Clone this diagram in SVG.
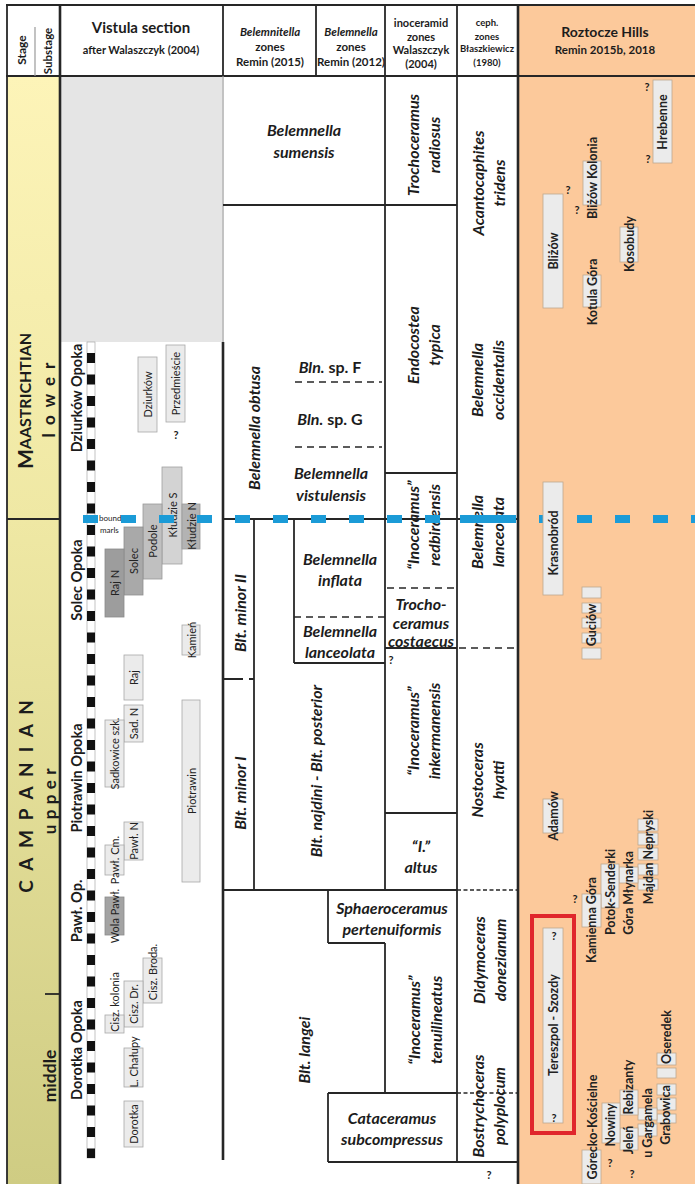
<svg xmlns="http://www.w3.org/2000/svg" width="695" height="1184" viewBox="0 0 695 1184">
<defs>
<linearGradient id="yel" x1="0" y1="0" x2="0" y2="1">
<stop offset="0" stop-color="#fdf4b8"/>
<stop offset="0.4" stop-color="#efe8a4"/>
<stop offset="1" stop-color="#cfcc83"/>
</linearGradient>
<style>
text{font-family:Lato,"Liberation Sans",sans-serif;fill:#1c1c1c}
.h{font-weight:700;text-anchor:middle}
.z{font-weight:700;font-style:italic;font-size:16px;text-anchor:middle;dominant-baseline:central}
.st{font-weight:700;text-anchor:middle;dominant-baseline:central}
.fm{font-weight:700;font-size:14.5px;text-anchor:middle;dominant-baseline:central}
.lv{font-size:11px;text-anchor:middle;dominant-baseline:central;fill:#222}
.lr{font-weight:700;font-size:12.5px;text-anchor:middle;dominant-baseline:central;fill:#222}
.q{font-weight:700;font-size:11px;text-anchor:middle;dominant-baseline:central}
.bx{fill:#ebebeb;stroke:#a8a8a8;stroke-width:0.8}
.rb{fill:#ebebeb;stroke:#bda88f;stroke-width:0.8}
.ln{stroke:#262626;stroke-width:1.8;fill:none}
.tk{stroke:#262626;stroke-width:2.6;fill:none}
.gl{stroke:#9a9a9a;stroke-width:1.2;fill:none}
.ds{stroke:#262626;stroke-width:1.6;stroke-dasharray:7 5;fill:none}
.dt{stroke:#262626;stroke-width:1.5;stroke-dasharray:4 2.5;fill:none}
</style>
</defs>
<rect x="0" y="0" width="695" height="1184" fill="#ffffff"/>
<!-- backgrounds -->
<rect x="7" y="76" width="53" height="1108" fill="url(#yel)"/>
<rect x="61" y="76" width="161" height="266" fill="#e5e5e5"/>
<rect x="518" y="5" width="177" height="1179" fill="#fcc99b"/>

<!-- header -->
<g id="header">
<text class="st" font-size="12" transform="translate(21,50) rotate(-90)">Stage</text>
<text class="st" font-size="11.5" transform="translate(47,51) rotate(-90)">Substage</text>
<text class="h" x="141" y="33" font-size="15">Vistula section</text>
<text class="h" x="141" y="54" font-size="11">after Walaszczyk (2004)</text>
<text class="h" x="270" y="36" font-size="11.5" font-style="italic">Belemnitella</text>
<text class="h" x="270" y="51" font-size="11.5">zones</text>
<text class="h" x="270" y="66" font-size="11.5">Remin (2015)</text>
<text class="h" x="351" y="36" font-size="11.5" font-style="italic">Belemnella</text>
<text class="h" x="351" y="51" font-size="11.5">zones</text>
<text class="h" x="351" y="66" font-size="11.5">Remin (2012)</text>
<text class="h" x="421" y="27" font-size="11">inoceramid</text>
<text class="h" x="421" y="41" font-size="11">zones</text>
<text class="h" x="421" y="54" font-size="11">Walaszczyk</text>
<text class="h" x="421" y="68" font-size="11">(2004)</text>
<text class="h" x="487" y="26" font-size="9.5">ceph.</text>
<text class="h" x="487" y="40" font-size="9.5">zones</text>
<text class="h" x="487" y="52" font-size="9.5">Błaszkiewicz</text>
<text class="h" x="487" y="66" font-size="9.5">(1980)</text>
<text class="h" x="605" y="37" font-size="14">Roztocze Hills</text>
<text class="h" x="605" y="54" font-size="11.5">Remin 2015b, 2018</text>
</g>

<!-- table lines -->
<g id="connectors">
<line class="ln" x1="6" y1="5" x2="695" y2="5"/>
<line class="ln" x1="7" y1="5" x2="7" y2="1184"/>
<line class="ln" x1="6" y1="76" x2="695" y2="76"/>
<line class="gl" x1="35" y1="27" x2="35" y2="76"/>
<line class="tk" x1="60" y1="5" x2="60" y2="1184"/>
<line class="ln" x1="7" y1="519" x2="60" y2="519"/>
<line class="ln" x1="45" y1="994" x2="60" y2="994"/>
<line class="ln" x1="223" y1="5" x2="223" y2="76"/>
<line class="gl" x1="223" y1="76" x2="223" y2="342"/>
<line class="tk" x1="223" y1="342" x2="223" y2="1160"/>
<line class="ln" x1="316" y1="5" x2="316" y2="76"/>
<line class="ln" x1="385" y1="5" x2="385" y2="890"/>
<line class="ln" x1="385" y1="943" x2="385" y2="1093"/>
<line class="ln" x1="457" y1="5" x2="457" y2="1162"/>
<line class="tk" x1="518" y1="5" x2="518" y2="1184"/>
<line class="ln" x1="223" y1="205" x2="457" y2="205"/>
<line class="ds" x1="295" y1="382" x2="382" y2="382"/>
<line class="ds" x1="295" y1="447" x2="382" y2="447"/>
<line class="ln" x1="385" y1="473" x2="457" y2="473"/>
<line class="ln" x1="223" y1="519" x2="518" y2="519"/>
<line class="ln" x1="254" y1="519" x2="254" y2="890"/>
<line class="ln" x1="223" y1="679" x2="254" y2="679" stroke-dasharray="20 6"/>
<line class="ln" x1="294" y1="519" x2="294" y2="663"/>
<line class="ds" x1="294" y1="617" x2="385" y2="617"/>
<line class="ln" x1="294" y1="663" x2="385" y2="663"/>
<line class="ds" x1="387" y1="588" x2="455" y2="588"/>
<line class="ln" x1="385" y1="648" x2="457" y2="648"/>
<line class="ds" x1="459" y1="648" x2="518" y2="648"/>
<line class="ln" x1="385" y1="813" x2="457" y2="813"/>
<line class="ln" x1="223" y1="890" x2="457" y2="890"/>
<line class="dt" x1="457" y1="890" x2="518" y2="890"/>
<line class="ln" x1="328" y1="890" x2="328" y2="943"/>
<line class="ln" x1="328" y1="943" x2="385" y2="943"/>
<line class="ln" x1="328" y1="1093" x2="457" y2="1093"/>
<line class="dt" x1="457" y1="1093" x2="518" y2="1093"/>
<line class="ln" x1="328" y1="1093" x2="328" y2="1162"/>
<line class="ln" x1="328" y1="1162" x2="518" y2="1162"/>
</g>

<!-- stage column -->
<g id="stages">
<text class="st" transform="translate(24,401) rotate(-90)"><tspan font-size="21">M</tspan><tspan font-size="16">AASTRICHTIAN</tspan></text>
<text class="st" font-size="17" letter-spacing="2" transform="translate(48,399) rotate(-90)">l o w e r</text>
<text class="st" font-size="19" letter-spacing="2.7" transform="translate(25,795) rotate(-90)">C A M P A N I A N</text>
<text class="st" font-size="17" letter-spacing="0.6" transform="translate(49,801) rotate(-90)">u p p e r</text>
<text class="st" font-size="17.5" transform="translate(49,1076) rotate(-90)">middle</text>
</g>

<!-- Vistula section -->
<g id="vistula">
<rect x="87" y="342" width="8" height="816" fill="#ffffff" stroke="#9a9a9a" stroke-width="0.6"/>
<line x1="91" y1="353" x2="91" y2="1158" stroke="#111" stroke-width="8" stroke-dasharray="10 11.5"/>
<text class="fm" transform="translate(76,398) rotate(-90)">Dziurków Opoka</text>
<text class="fm" transform="translate(76,580) rotate(-90)">Solec Opoka</text>
<text class="fm" transform="translate(76,778) rotate(-90)">Piotrawin Opoka</text>
<text class="fm" transform="translate(76,911) rotate(-90)">Pawł. Op.</text>
<text class="fm" transform="translate(76,1050) rotate(-90)">Dorotka Opoka</text>

<g id="v-dziurkow"><rect class="bx" x="138" y="357" width="19" height="75"/><text class="lv" transform="translate(147.5,394.5) rotate(-90)">Dziurków</text></g>
<g id="v-przedmiescie"><rect class="bx" x="166" y="345" width="19" height="77"/><text class="lv" transform="translate(175.5,383.5) rotate(-90)">Przedmieście</text><text class="q" x="176" y="434">?</text></g>
<g id="v-kludzieS"><rect x="162" y="467" width="20" height="97" fill="#d3d3d3" stroke="#a0a0a0" stroke-width="0.8"/><text class="lv" transform="translate(172,515) rotate(-90)">Kłudzie S</text></g>
<g id="v-podole"><rect x="143" y="504" width="19" height="75" fill="#c0c0c0" stroke="#999" stroke-width="0.8"/><text class="lv" transform="translate(152.5,541) rotate(-90)">Podole</text></g>
<g id="v-kludzieN"><rect x="182" y="504" width="18" height="45" fill="#b3b3b3" stroke="#999" stroke-width="0.8"/><text class="lv" transform="translate(191,526) rotate(-90)">Kłudzie N</text></g>
<g id="v-solec"><rect x="124" y="527" width="19" height="68" fill="#a9a9a9" stroke="#8f8f8f" stroke-width="0.8"/><text class="lv" transform="translate(133.5,561) rotate(-90)">Solec</text></g>
<g id="v-rajN"><rect x="105" y="549" width="19" height="68" fill="#9d9d9d" stroke="#8a8a8a" stroke-width="0.8"/><text class="lv" transform="translate(114.5,583) rotate(-90)">Raj N</text></g>
<g id="v-boundary"><text x="99" y="521" font-size="8" fill="#333">boundary</text><text x="100" y="533" font-size="8" fill="#333">marls</text></g>
<g id="v-kamien"><rect class="bx" x="182" y="625" width="18" height="30"/><text class="lv" transform="translate(191,640) rotate(-90)">Kamień</text></g>
<g id="v-raj"><rect class="bx" x="124" y="655" width="19" height="45"/><text class="lv" transform="translate(133.5,677.5) rotate(-90)">Raj</text></g>
<g id="v-sadN"><rect class="bx" x="124" y="705" width="19" height="37"/><text class="lv" transform="translate(133.5,723.5) rotate(-90)">Sad. N</text></g>
<g id="v-sadkowice"><rect class="bx" x="105" y="720" width="19" height="67"/><text class="lv" transform="translate(114.5,753.5) rotate(-90)">Sadkowice szk.</text></g>
<g id="v-piotrawin"><rect class="bx" x="182" y="700" width="18" height="182"/><text class="lv" transform="translate(191,791) rotate(-90)">Piotrawin</text></g>
<g id="v-pawlN"><rect class="bx" x="124" y="822" width="19" height="38"/><text class="lv" transform="translate(133.5,841) rotate(-90)">Pawł. N</text></g>
<g id="v-pawlCm"><rect class="bx" x="105" y="845" width="19" height="30"/><text class="lv" transform="translate(114.5,860) rotate(-90)">Pawł. Cm.</text></g>
<g id="v-wola"><rect x="105" y="897" width="19" height="38" fill="#a3a3a3" stroke="#8a8a8a" stroke-width="0.8"/><text class="lv" transform="translate(114.5,916) rotate(-90)">Wola Pawł.</text></g>
<g id="v-broda"><rect class="bx" x="143" y="958" width="19" height="45"/><text class="lv" transform="translate(152.5,972) rotate(-90)">Cisz. Broda.</text></g>
<g id="v-ciszdr"><rect class="bx" x="124" y="981" width="19" height="46"/><text class="lv" transform="translate(133.5,1004) rotate(-90)">Cisz. Dr.</text></g>
<g id="v-kolonia"><rect class="bx" x="105" y="1015" width="19" height="18"/><text class="lv" transform="translate(114.5,1002) rotate(-90)">Cisz. kolonia</text></g>
<g id="v-chalupy"><rect class="bx" x="124" y="1048" width="19" height="39"/><text class="lv" transform="translate(133.5,1062) rotate(-90)">L. Chałupy</text></g>
<g id="v-dorotka"><rect class="bx" x="124" y="1101" width="19" height="46"/><text class="lv" transform="translate(133.5,1124) rotate(-90)">Dorotka</text></g>
</g>

<!-- Belemnitella / Belemnella zones -->
<g id="belemnite-zones">
<text class="z" x="304" y="129">Belemnella</text>
<text class="z" x="304" y="151">sumensis</text>
<text class="z" transform="translate(253,428) rotate(-90)">Belemnella obtusa</text>
<text class="z" x="330" y="366">Bln.<tspan font-style="normal"> sp. F</tspan></text>
<text class="z" x="330" y="418">Bln.<tspan font-style="normal"> sp. G</tspan></text>
<text class="z" x="331" y="472">Belemnella</text>
<text class="z" x="331" y="494">vistulensis</text>
<text class="z" font-size="15" transform="translate(239,613) rotate(-90)">Blt. minor II</text>
<text class="z" font-size="15" transform="translate(239,793) rotate(-90)">Blt. minor I</text>
<text class="z" font-size="15" transform="translate(315,771) rotate(-90)">Blt. najdini - Blt. posterior</text>
<text class="z" x="340" y="558">Belemnella</text>
<text class="z" x="340" y="579">inflata</text>
<text class="z" x="340" y="630">Belemnella</text>
<text class="z" x="340" y="651">lanceolata</text>
<text class="z" font-size="15" transform="translate(303,1050) rotate(-90)">Blt. langei</text>
</g>

<!-- inoceramid zones -->
<g id="inoceramid-zones">
<text class="z" transform="translate(412,145) rotate(-90)">Trochoceramus</text>
<text class="z" transform="translate(433,145) rotate(-90)">radiosus</text>
<text class="z" transform="translate(412,345) rotate(-90)">Endocostea</text>
<text class="z" transform="translate(433,345) rotate(-90)">typica</text>
<text class="z" transform="translate(412,525) rotate(-90)">“Inoceramus”</text>
<text class="z" transform="translate(433,525) rotate(-90)">redbirdensis</text>
<text class="z" font-size="13.5" x="421" y="603">Trocho-</text>
<text class="z" font-size="13.5" x="421" y="622">ceramus</text>
<text class="z" font-size="13.5" x="421" y="640">costaecus</text>
<text class="q" x="391" y="659" font-size="13">?</text>
<text class="z" transform="translate(412,731) rotate(-90)">“Inoceramus”</text>
<text class="z" transform="translate(433,731) rotate(-90)">inkermanensis</text>
<text class="z" x="421" y="845">“I.”</text>
<text class="z" x="421" y="866">altus</text>
<text class="z" x="392" y="907">Sphaeroceramus</text>
<text class="z" x="392" y="928">pertenuiformis</text>
<text class="z" transform="translate(413,1020) rotate(-90)">“Inoceramus”</text>
<text class="z" transform="translate(435,1020) rotate(-90)">tenuilineatus</text>
<text class="z" x="392" y="1117">Cataceramus</text>
<text class="z" x="392" y="1138">subcompressus</text>
</g>

<!-- ceph zones -->
<g id="ceph-zones">
<text class="z" transform="translate(477,183) rotate(-90)">Acantocaphites</text>
<text class="z" transform="translate(498,183) rotate(-90)">tridens</text>
<text class="z" transform="translate(476,380) rotate(-90)">Belemnella</text>
<text class="z" transform="translate(497,380) rotate(-90)">occidentalis</text>
<text class="z" transform="translate(476,532) rotate(-90)">Belemnella</text>
<text class="z" transform="translate(497,532) rotate(-90)">lanceolata</text>
<text class="z" transform="translate(476,780) rotate(-90)">Nostoceras</text>
<text class="z" transform="translate(497,780) rotate(-90)">hyatti</text>
<text class="z" transform="translate(478,960) rotate(-90)">Didymoceras</text>
<text class="z" transform="translate(499,960) rotate(-90)">donezianum</text>
<text class="z" transform="translate(477,1106) rotate(-90)">Bostrychoceras</text>
<text class="z" transform="translate(498,1106) rotate(-90)">polyplocum</text>
<text class="q" x="489" y="1174">?</text>
</g>

<!-- blue boundary -->
<g id="boundary">
<line x1="83" y1="519" x2="695" y2="519" stroke="#1b9bd7" stroke-width="8" stroke-dasharray="15 23"/>
<rect x="460" y="515" width="54" height="8" fill="#1b9bd7"/>
</g>

<!-- Roztocze localities -->
<g id="roztocze">
<g id="r-hrebenne"><rect class="rb" x="653" y="80" width="19" height="83"/><text class="lr" transform="translate(662.5,122) rotate(-90)">Hrebenne</text><text class="q" x="647" y="86">?</text><text class="q" x="648" y="158">?</text></g>
<g id="r-blizowkol"><rect class="rb" x="583" y="161" width="18" height="44"/><text class="lr" transform="translate(592,178) rotate(-90)">Bliżów Kolonia</text><text class="q" x="568" y="189">?</text><text class="q" x="577" y="209">?</text></g>
<g id="r-blizow"><rect class="rb" x="543" y="194" width="20" height="114"/><text class="lr" transform="translate(553,251) rotate(-90)">Bliżów</text></g>
<g id="r-kotula"><rect class="rb" x="583" y="275" width="18" height="32"/><text class="lr" transform="translate(592,292) rotate(-90)">Kotula Góra</text></g>
<g id="r-kosobudy"><rect class="rb" x="620" y="227" width="18" height="35"/><text class="lr" transform="translate(629,244) rotate(-90)">Kosobudy</text></g>
<g id="r-krasnobrod"><rect class="rb" x="543" y="482" width="20" height="113"/><text class="lr" transform="translate(553,543) rotate(-90)">Krasnobród</text></g>
<g id="r-guciow"><rect class="rb" x="582" y="587" width="19" height="11"/><rect class="rb" x="582" y="603" width="19" height="10"/><rect class="rb" x="582" y="618" width="19" height="10"/><rect class="rb" x="582" y="633" width="19" height="10"/><rect class="rb" x="582" y="648" width="19" height="11"/><text class="lr" transform="translate(591.5,625) rotate(-90)">Guciów</text></g>
<g id="r-adamow"><rect class="rb" x="543" y="799" width="20" height="34"/><text class="lr" transform="translate(553,816) rotate(-90)">Adamów</text></g>
<g id="r-majdan"><rect class="rb" x="638" y="819" width="20" height="12"/><rect class="rb" x="638" y="833" width="20" height="12"/><rect class="rb" x="638" y="848" width="20" height="12"/><rect class="rb" x="638" y="864" width="20" height="11"/><rect class="rb" x="638" y="879" width="20" height="11"/><text class="lr" transform="translate(648,857) rotate(-90)">Majdan Nepryski</text></g>
<g id="r-mlynarka"><rect class="rb" x="619" y="867" width="19" height="16"/><text class="lr" transform="translate(628.5,893) rotate(-90)">Góra Młynarka</text></g>
<g id="r-potok"><rect class="rb" x="601" y="864" width="18" height="44"/><text class="lr" transform="translate(610,892) rotate(-90)">Potok-Senderki</text></g>
<g id="r-kamienna"><rect class="rb" x="582" y="894" width="19" height="33"/><text class="lr" transform="translate(591.5,920) rotate(-90)">Kamienna Góra</text><text class="q" x="575" y="898">?</text></g>
<g id="r-tereszpol"><rect x="532" y="916" width="42" height="217" fill="none" stroke="#e0262b" stroke-width="4"/><rect class="rb" x="543" y="928" width="20" height="195"/><text class="lr" transform="translate(553,1025) rotate(-90)">Tereszpol - Szozdy</text><text class="q" x="554" y="935">?</text><text class="q" x="554" y="1117">?</text></g>
<g id="r-oseredek"><rect class="rb" x="657" y="1053" width="19" height="12"/><text class="lr" transform="translate(666,1037) rotate(-90)">Oseredek</text></g>
<g id="r-grabowica"><rect class="rb" x="657" y="1068" width="19" height="10"/><rect class="rb" x="657" y="1084" width="19" height="11"/><rect class="rb" x="657" y="1098" width="19" height="12"/><rect class="rb" x="657" y="1114" width="19" height="9"/><text class="lr" transform="translate(665,1115) rotate(-90)">Grabowica</text></g>
<g id="r-gargamela"><rect class="rb" x="638" y="1108" width="19" height="12"/><rect class="rb" x="638" y="1124" width="19" height="12"/><text class="lr" transform="translate(647,1123) rotate(-90)">u Gargamela</text></g>
<g id="r-rebizanty"><rect class="rb" x="620" y="1090" width="18" height="25"/><text class="lr" transform="translate(628,1087) rotate(-90)">Rebizanty</text></g>
<g id="r-jelen"><rect class="rb" x="620" y="1128" width="18" height="22"/><text class="lr" transform="translate(628,1140) rotate(-90)">Jeleń</text><text class="q" x="632" y="1173">?</text></g>
<g id="r-nowiny"><rect class="rb" x="602" y="1103" width="18" height="40"/><text class="lr" transform="translate(610,1125) rotate(-90)">Nowiny</text><text class="q" x="610" y="1162">?</text></g>
<g id="r-gorecko"><rect class="rb" x="582" y="1150" width="19" height="34"/><text class="lr" transform="translate(592,1127) rotate(-90)">Górecko-Kościelne</text></g>
</g>
</svg>
